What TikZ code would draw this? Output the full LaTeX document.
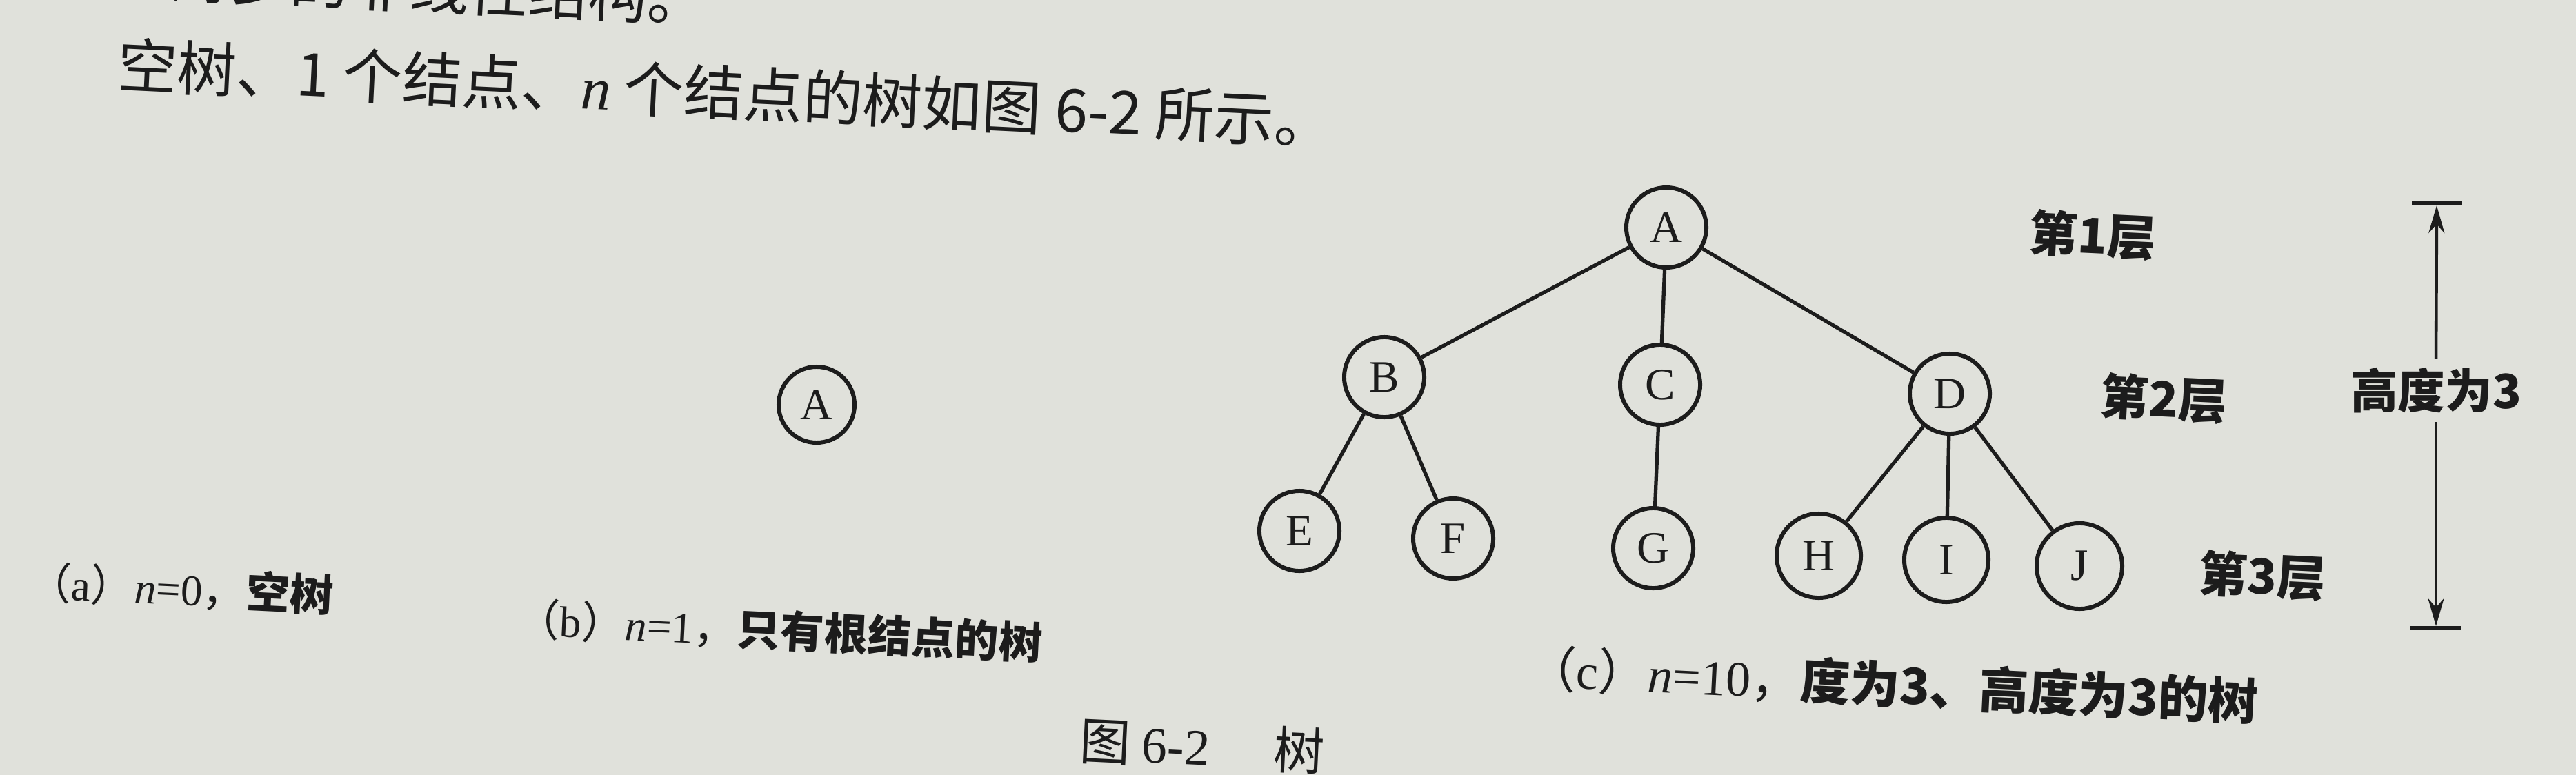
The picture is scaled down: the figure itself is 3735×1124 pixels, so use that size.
\documentclass[tikz,border=0pt]{standalone}
\usepackage{fontspec}
\setmainfont{Liberation Serif}
\newfontfamily\cjk{Noto Sans CJK SC}
\newcommand\cjkb{\cjk\bfseries}
\usetikzlibrary{arrows.meta}
\definecolor{paper}{RGB}{224,225,219}
\definecolor{ink}{RGB}{28,28,28}
\newcommand\myn{{\rmfamily\mdseries\itshape n}}
\begin{document}
\begin{tikzpicture}[x=0.01cm,y=-0.01cm,
  tn/.style={circle,draw=ink,line width=1.7pt,minimum size=1.16cm,inner sep=0pt,
    font=\fontsize{18.5pt}{20pt}\selectfont,text=ink},
  edge/.style={draw=ink,line width=1.5pt},
  lbl/.style={text=ink,inner sep=0pt,rotate=-2.7},
  bodytext/.style={lbl,font=\fontsize{24.6pt}{26pt}\selectfont\cjk},
  captext/.style={lbl,font=\fontsize{18pt}{20pt}\selectfont},
  lvltext/.style={lbl,font=\fontsize{20pt}{22pt}\selectfont\cjkb},
  dimline/.style={draw=ink,line width=1.3pt},
  dimarrow/.style={dimline,-{Stealth[length=0.4cm,width=0.23cm]}}
]
\fill[paper] (0,0) rectangle (3735,1124);
\useasboundingbox (0,0) rectangle (3735,1124);

% running text
\node[bodytext,anchor=base east] (line1) at (1025,32) {是一对多的非线性结构。};
\node[bodytext,anchor=west] (line2) at (170,93) {空树、1 个结点、\myn\ 个结点的树如图 6-2 所示。};

% (b) single node
\node[tn,minimum size=1.1cm] (b0) at (1184,587) {A};

% (c) tree
\node[tn] (A) at (2416,330) {A};
\node[tn] (B) at (2007,547) {B};
\node[tn] (C) at (2407,558) {C};
\node[tn] (D) at (2827,571) {D};
\node[tn] (E) at (1884,770) {E};
\node[tn] (F) at (2107,781) {F};
\node[tn] (G) at (2397,795) {G};
\node[tn,minimum size=1.22cm] (H) at (2637,806) {H};
\node[tn,minimum size=1.22cm] (I) at (2822,812) {I};
\node[tn,minimum size=1.24cm] (J) at (3015,821) {J};
\draw[edge] (A) -- (B);
\draw[edge] (A) -- (C);
\draw[edge] (A) -- (D);
\draw[edge] (B) -- (E);
\draw[edge] (B) -- (F);
\draw[edge] (C) -- (G);
\draw[edge] (D) -- (H);
\draw[edge] (D) -- (I);
\draw[edge] (D) -- (J);

% level labels
\node[lvltext] (L1) at (3034,341) {第1层};
\node[lvltext] (L2) at (3137,578) {第2层};
\node[lvltext] (L3) at (3280,835) {第3层};

% height dimension
\coordinate (tl) at (3497,295);
\coordinate (tr) at (3570,295);
\coordinate (bl) at (3495,911);
\coordinate (br) at (3568,911);
\coordinate (ttip) at (3533,298);
\coordinate (btip) at (3532,908);
\draw[dimline,line width=1.6pt] (tl) -- (tr);
\draw[dimline,line width=1.6pt] (bl) -- (br);
\node[lvltext,rotate=2.7,inner ysep=0.12cm,font=\fontsize{19.5pt}{21pt}\selectfont\cjkb] (hl) at (3532,566) {高度为3};
\draw[dimarrow] (hl.north) -- (ttip);
\draw[dimarrow] (hl.south) -- (btip);

% captions
\node[captext,anchor=west] (capa) at (40,843) {{\cjk （}a{\cjk ）}\myn=0{\cjk ，}{\cjkb 空树}};
\node[captext,anchor=west] (capb) at (748,897) {{\cjk （}b{\cjk ）}\myn=1{\cjk ，}{\cjkb 只有根结点的树}};
\node[captext,anchor=west,font=\fontsize{20.5pt}{22pt}\selectfont] (capc) at (2213,968) {{\cjk （}c{\cjk ）}\myn=10{\cjk ，}{\cjkb 度为3、高度为3的树}};
\node[lbl,anchor=west,font=\fontsize{21pt}{23pt}\selectfont\cjk] (fig) at (1565,1073) {图 {\rmfamily 6-2}\hspace{1.25em}树};
\end{tikzpicture}
\end{document}
